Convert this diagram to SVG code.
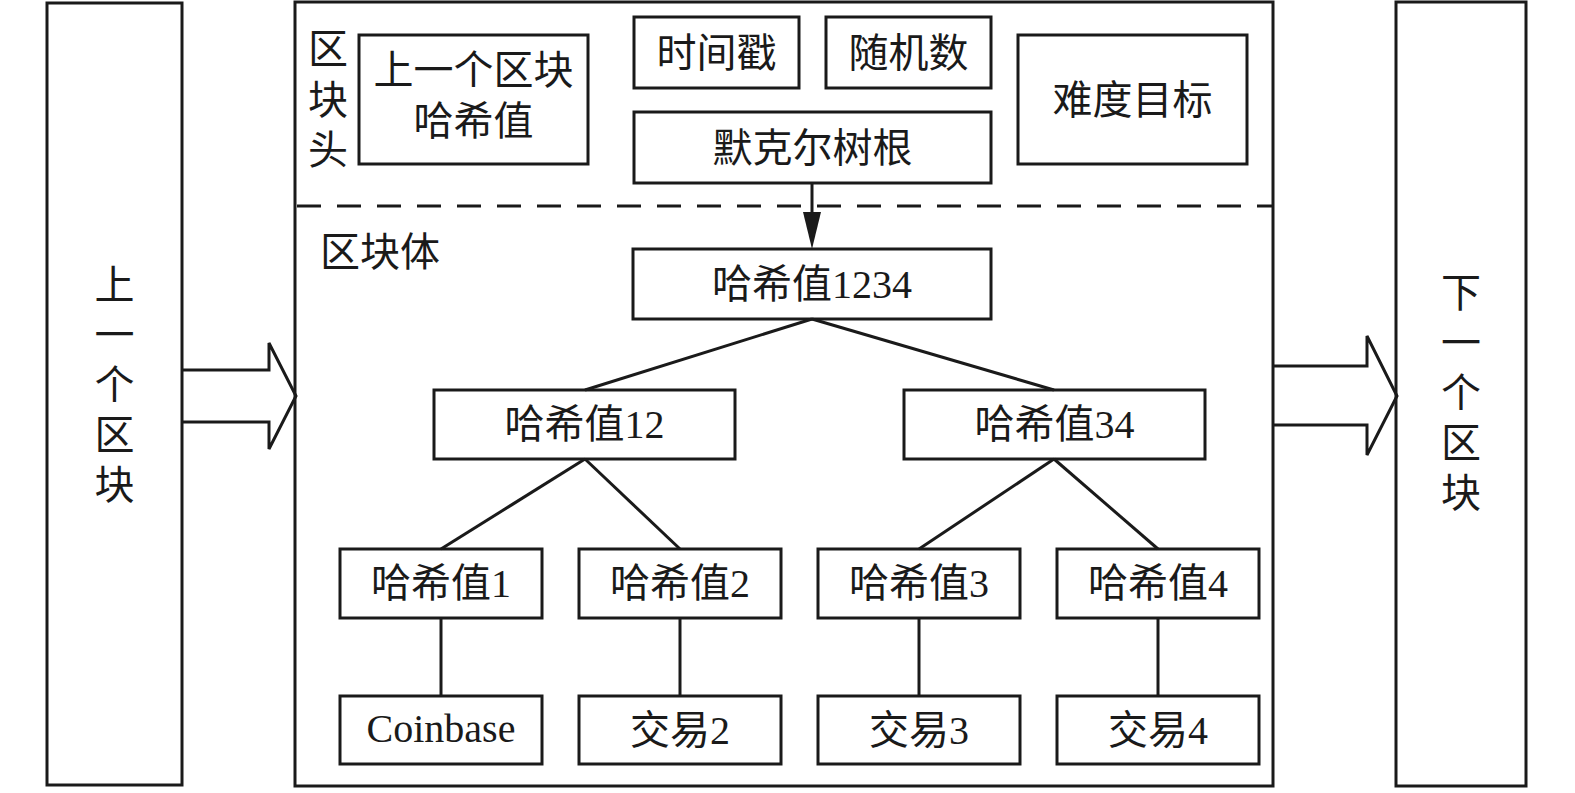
<svg xmlns="http://www.w3.org/2000/svg" width="1575" height="793" viewBox="0 0 1575 793">
<style>
.box{fill:#fff;stroke:#1a1a1a;stroke-width:3}
.ln{fill:none;stroke:#1a1a1a;stroke-width:3}
.t{font-family:"Liberation Serif","Noto Sans CJK SC",serif;font-size:40px;fill:#1a1a1a;text-anchor:middle}
</style>
<rect width="1575" height="793" fill="#fff"/>
<g id="prev-block">
<rect class="box" x="47" y="3" width="135" height="782"/>
<text class="t" x="114.5" y="299">上</text>
<text class="t" x="114.5" y="349">一</text>
<text class="t" x="114.5" y="399">个</text>
<text class="t" x="114.5" y="449">区</text>
<text class="t" x="114.5" y="499">块</text>
</g>
<g id="block">
<rect class="box" x="295" y="2" width="978" height="784"/>
<line class="ln" x1="297" y1="206" x2="1273" y2="206" stroke-dasharray="24 16"/>
<text class="t" x="328" y="63">区</text>
<text class="t" x="328" y="114">块</text>
<text class="t" x="328" y="164">头</text>
<text class="t" x="320" y="266" style="text-anchor:start">区块体</text>
</g>
<g id="next-block">
<rect class="box" x="1396" y="2" width="130" height="784"/>
<text class="t" x="1461" y="307">下</text>
<text class="t" x="1461" y="357">一</text>
<text class="t" x="1461" y="407">个</text>
<text class="t" x="1461" y="457">区</text>
<text class="t" x="1461" y="507">块</text>
</g>
<g id="prev-hash">
<rect class="box" x="359" y="35" width="229" height="129"/>
<text class="t" x="473.5" y="84">上一个区块</text>
<text class="t" x="473.5" y="135">哈希值</text>
</g>
<g id="timestamp">
<rect class="box" x="634" y="17" width="165" height="71"/>
<text class="t" x="716.5" y="67">时间戳</text>
</g>
<g id="nonce">
<rect class="box" x="826" y="17" width="165" height="71"/>
<text class="t" x="908.5" y="67">随机数</text>
</g>
<g id="difficulty">
<rect class="box" x="1018" y="35" width="229" height="129"/>
<text class="t" x="1132.5" y="114">难度目标</text>
</g>
<g id="merkle-root">
<rect class="box" x="634" y="112" width="357" height="71"/>
<text class="t" x="812.5" y="162">默克尔树根</text>
</g>
<g id="hash1234">
<rect class="box" x="633" y="249" width="358" height="70"/>
<text class="t" x="812" y="298">哈希值1234</text>
</g>
<g id="hash12">
<rect class="box" x="434" y="390" width="301" height="69"/>
<text class="t" x="584.5" y="438">哈希值12</text>
</g>
<g id="hash34">
<rect class="box" x="904" y="390" width="301" height="69"/>
<text class="t" x="1054.5" y="438">哈希值34</text>
</g>
<g id="hash1">
<rect class="box" x="340" y="549" width="202" height="69"/>
<text class="t" x="441" y="597">哈希值1</text>
</g>
<g id="hash2">
<rect class="box" x="579" y="549" width="202" height="69"/>
<text class="t" x="680" y="597">哈希值2</text>
</g>
<g id="hash3">
<rect class="box" x="818" y="549" width="202" height="69"/>
<text class="t" x="919" y="597">哈希值3</text>
</g>
<g id="hash4">
<rect class="box" x="1057" y="549" width="202" height="69"/>
<text class="t" x="1158" y="597">哈希值4</text>
</g>
<g id="coinbase">
<rect class="box" x="340" y="696" width="202" height="68"/>
<text class="t" x="441" y="742">Coinbase</text>
</g>
<g id="tx2">
<rect class="box" x="579" y="696" width="202" height="68"/>
<text class="t" x="680" y="744">交易2</text>
</g>
<g id="tx3">
<rect class="box" x="818" y="696" width="202" height="68"/>
<text class="t" x="919" y="744">交易3</text>
</g>
<g id="tx4">
<rect class="box" x="1057" y="696" width="202" height="68"/>
<text class="t" x="1158" y="744">交易4</text>
</g>
<g id="connectors">
<polyline class="ln" points="182,370 269,370 269,343 296,396 269,449 269,422 182,422"/>
<polyline class="ln" points="1273,366 1367,366 1367,336 1397,396 1367,455 1367,425 1273,425"/>
<line class="ln" x1="812" y1="183" x2="812" y2="215"/>
<polygon points="803,212 821,212 812,249" fill="#1a1a1a"/>
<line class="ln" x1="812" y1="319" x2="585" y2="390"/>
<line class="ln" x1="812" y1="319" x2="1054" y2="390"/>
<line class="ln" x1="585" y1="459" x2="441" y2="549"/>
<line class="ln" x1="585" y1="459" x2="680" y2="549"/>
<line class="ln" x1="1054" y1="459" x2="919" y2="549"/>
<line class="ln" x1="1054" y1="459" x2="1158" y2="549"/>
<line class="ln" x1="441" y1="618" x2="441" y2="696"/>
<line class="ln" x1="680" y1="618" x2="680" y2="696"/>
<line class="ln" x1="919" y1="618" x2="919" y2="696"/>
<line class="ln" x1="1158" y1="618" x2="1158" y2="696"/>
</g>
</svg>
